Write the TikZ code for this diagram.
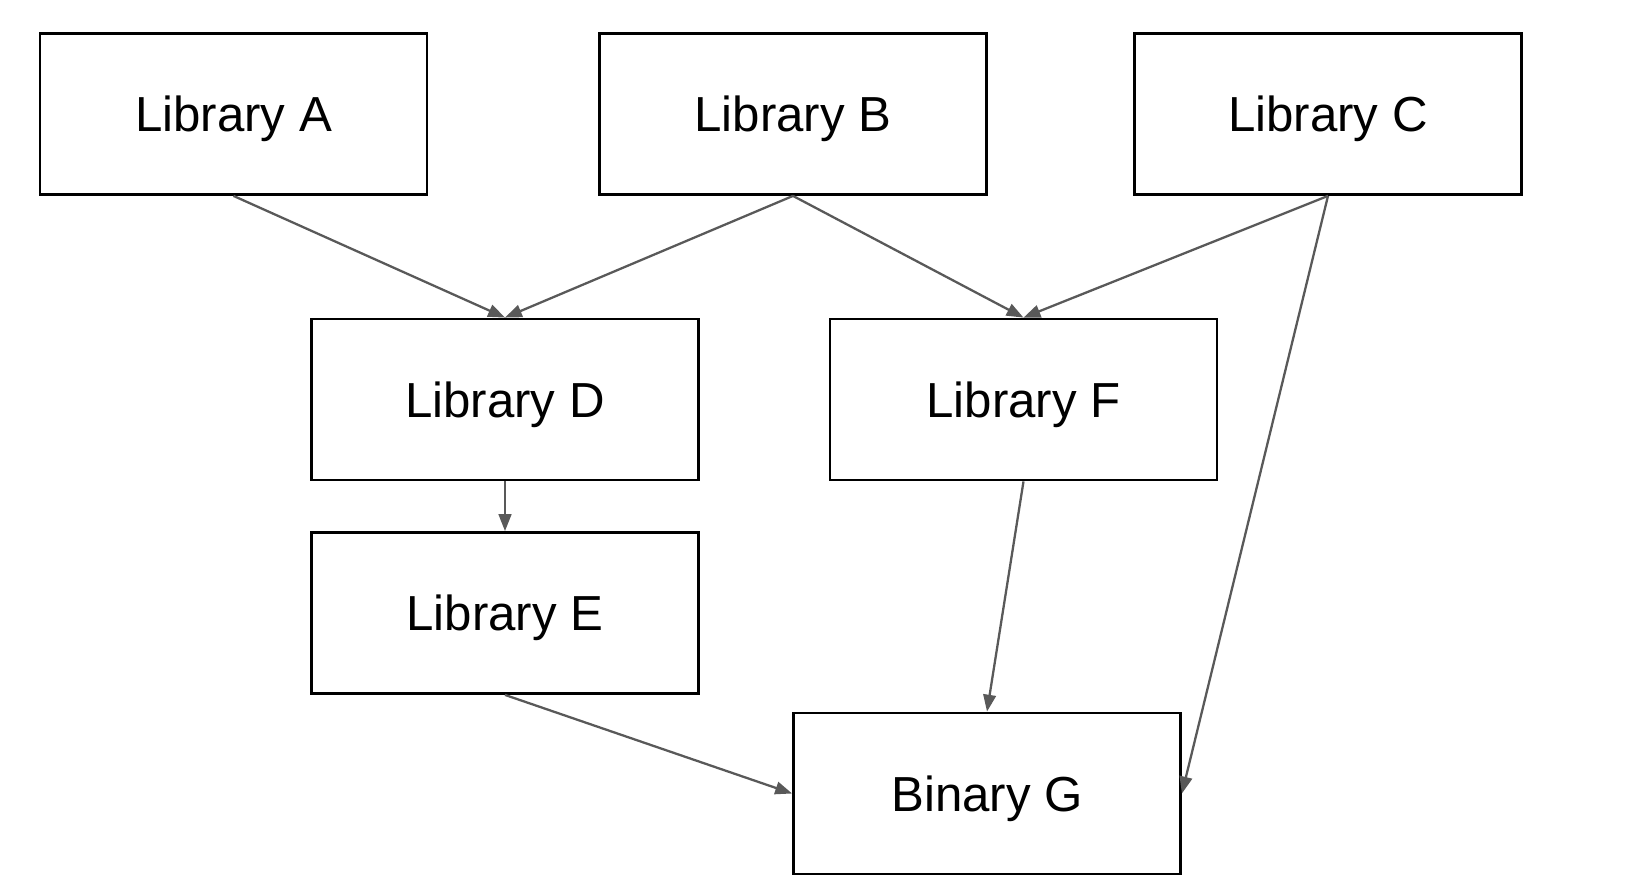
\documentclass[tikz,border=0pt]{standalone}
\usepackage{fontspec}
\setmainfont{Liberation Sans}
\usetikzlibrary{arrows.meta}
\definecolor{edge_grey}{RGB}{89, 89, 89}
\tikzstyle{box}=[rectangle,fill=white,draw=black,line width=0.8pt,
  minimum width=3.87cm,minimum height=1.61cm,inner sep=0pt,text depth=0pt,
  font=\fontsize{14}{17}\selectfont]
\tikzstyle{dep}=[draw=edge_grey,line width=0.65pt,
  -{Triangle[length=4.8pt,width=3.6pt,fill=edge_grey]}]
\tikzstyle{none}=[]

\begin{document}
\begin{tikzpicture}
            \useasboundingbox (0, 0) rectangle (16.42, -8.92);
            \node [style=box] (A) at (2.335, -1.14) {Library A};
            \node [style=box] (B) at (7.93, -1.14) {Library B};
            \node [style=box] (C) at (13.28, -1.14) {Library C};
            \node [style=box] (D) at (5.05, -3.995) {Library D};
            \node [style=box] (F) at (10.235, -3.995) {Library F};
            \node [style=box] (E) at (5.05, -6.13) {Library E};
            \node [style=box] (G) at (9.87, -7.935) {Binary G};
            \draw [style=dep] (A.south) to (D.north);
            \draw [style=dep] (B.south) to (D.north);
            \draw [style=dep] (B.south) to (F.north);
            \draw [style=dep] (C.south) to (F.north);
            \draw [style=dep] (D.south) to (E.north);
            \draw [style=dep] (E.south) to (G.west);
            \draw [style=dep] (F.south) to (G.north);
            \draw [style=dep] (C.south) to (G.east);
    \end{tikzpicture}
\end{document}
